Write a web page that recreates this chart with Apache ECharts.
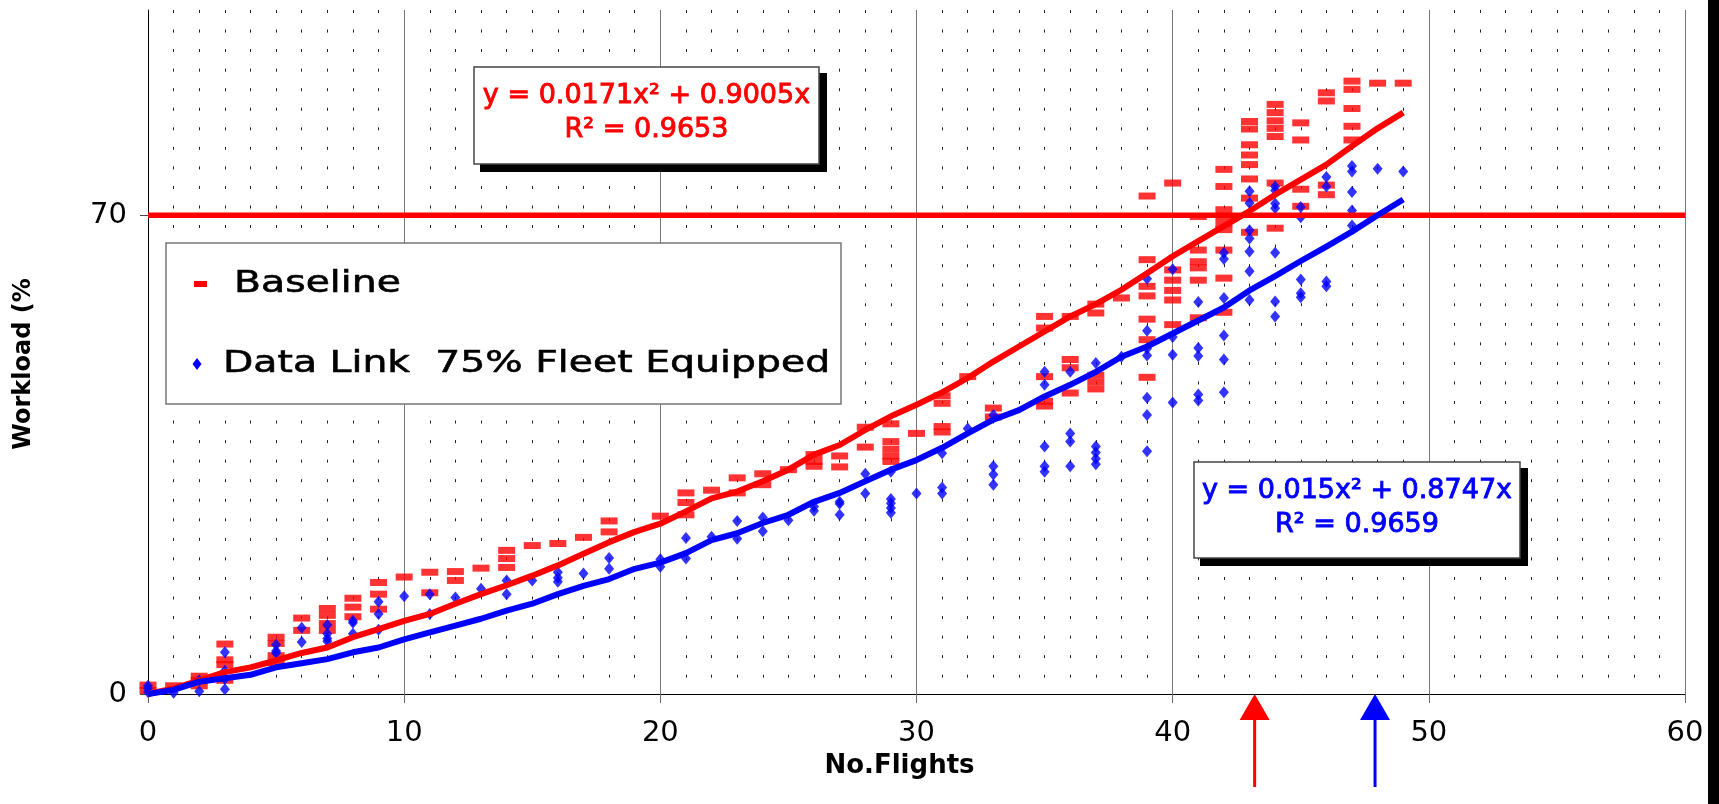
<!DOCTYPE html>
<html>
<head>
<meta charset="utf-8">
<title>Workload vs No. Flights</title>
<script src="https://cdn.jsdelivr.net/npm/echarts@6/dist/echarts.min.js"></script>
<style>
  html, body { margin: 0; padding: 0; background: #fff; }
  #chart { width: 1719px; height: 804px; }
</style>
</head>
<body>
<div id="chart"></div>
<script>
// ---- data ----
// Baseline sessions: [no. flights, workload %]
const baselinePoints = [
  [0, 0.5], [0, 1.3], [1, 1.2], [2, 1.2], [2, 2.0], [2, 2.6],
  [3, 7.3], [3, 5.0], [3, 4.3], [3, 2.0],
  [5, 8.3], [5, 7.4], [5, 5.6], [5, 4.6], [6, 11.1], [6, 9.3],
  [7, 12.5], [7, 11.5], [7, 10.3], [7, 9.3], [8, 14.0], [8, 12.7], [8, 11.3],
  [9, 16.3], [9, 14.6], [9, 12.4], [10, 17.1], [11, 17.8], [11, 14.8],
  [12, 17.9], [12, 16.6], [13, 18.4], [14, 21.0], [14, 19.8], [14, 18.5],
  [15, 21.7], [16, 22.0], [17, 22.9], [18, 25.3], [18, 23.7], [20, 26.0],
  [21, 29.4], [21, 28.0], [21, 26.2], [22, 29.8], [23, 31.6], [23, 29.4],
  [24, 32.2], [24, 30.6], [25, 32.8], [26, 35.0], [26, 34.0], [26, 33.3],
  [27, 34.8], [27, 33.2], [28, 39.0], [28, 36.1],
  [29, 39.5], [29, 36.9], [29, 35.8], [29, 34.8], [29, 34.0], [30, 38.1],
  [31, 43.6], [31, 42.5], [31, 39.1], [31, 38.3], [32, 46.4], [33, 41.8], [33, 40.5],
  [35, 55.2], [35, 53.5], [35, 46.4], [35, 42.8], [35, 42.1],
  [36, 55.2], [36, 48.9], [36, 47.7], [36, 44.0],
  [37, 57.0], [37, 55.7], [37, 46.6], [37, 45.6], [37, 44.6], [38, 57.9],
  [39, 72.8], [39, 63.5], [39, 59.6], [39, 58.2], [39, 54.8], [39, 51.8], [39, 46.3],
  [40, 74.7], [40, 62.0], [40, 60.5], [40, 59.0], [40, 57.6], [40, 54.0],
  [41, 69.8], [41, 64.9], [41, 63.2], [41, 62.3], [41, 60.5], [41, 55.0],
  [42, 76.7], [42, 74.2], [42, 70.8], [42, 69.8], [42, 68.8], [42, 67.9], [42, 64.9], [42, 60.8], [42, 55.8],
  [43, 83.7], [43, 82.6], [43, 80.3], [43, 78.8], [43, 77.4], [43, 75.3], [43, 72.5], [43, 67.5],
  [44, 86.2], [44, 85.0], [44, 83.8], [44, 82.7], [44, 81.5], [44, 74.7], [44, 68.1],
  [45, 83.5], [45, 81.0], [45, 73.8], [45, 71.3],
  [46, 87.9], [46, 86.7], [46, 74.4], [46, 73.0],
  [47, 89.6], [47, 88.4], [47, 85.6], [47, 83.0], [47, 81.0],
  [48, 89.3], [49, 89.3]
]

// Data Link 75% fleet equipped sessions: [no. flights, workload %]
const dataLinkPoints = [
  [0, 1.2], [0, 0.8], [0, 0.3], [1, 0.2], [2, 2.0], [2, 0.4],
  [3, 6.1], [3, 3.4], [3, 2.2], [3, 0.7], [5, 7.2], [5, 6.3], [5, 6.0],
  [6, 9.7], [6, 7.6], [7, 10.1], [7, 8.8], [7, 8.1], [7, 7.7],
  [8, 10.7], [8, 10.4], [8, 8.8], [9, 13.5], [9, 11.7], [9, 9.4],
  [10, 14.3], [11, 14.6], [11, 11.7], [12, 14.1], [13, 15.4], [14, 16.6], [14, 14.6],
  [15, 16.6], [16, 17.8], [16, 17.0], [16, 16.4], [17, 17.6], [18, 19.9], [18, 18.3],
  [20, 19.7], [20, 18.6], [21, 22.8], [21, 19.8], [22, 23.0], [23, 25.3], [23, 22.7],
  [24, 25.8], [24, 23.8], [25, 25.4], [26, 27.4], [26, 26.8],
  [27, 28.1], [27, 27.8], [27, 26.2], [28, 32.2], [28, 29.3],
  [29, 32.5], [29, 28.5], [29, 27.9], [29, 27.2], [29, 26.5], [30, 29.3],
  [31, 35.2], [31, 30.2], [31, 29.3], [32, 38.8],
  [33, 40.8], [33, 33.3], [33, 32.1], [33, 30.6],
  [35, 47.1], [35, 45.2], [35, 36.2], [35, 33.3], [35, 32.5],
  [36, 47.1], [36, 38.1], [36, 36.9], [36, 33.3],
  [37, 48.4], [37, 36.2], [37, 35.3], [37, 34.4], [37, 33.6], [38, 49.3],
  [39, 60.7], [39, 53.1], [39, 50.5], [39, 49.5], [39, 43.3], [39, 40.8], [39, 35.5],
  [40, 62.1], [40, 52.2], [40, 49.6], [40, 42.6],
  [41, 57.3], [41, 50.6], [41, 49.4], [41, 43.8], [41, 42.9],
  [42, 64.5], [42, 63.6], [42, 57.9], [42, 52.4], [42, 48.9], [42, 44.1],
  [43, 73.5], [43, 71.8], [43, 67.8], [43, 66.6], [43, 64.7], [43, 61.8], [43, 57.6],
  [44, 74.2], [44, 73.6], [44, 71.7], [44, 71.0], [44, 64.5], [44, 57.4], [44, 55.2],
  [45, 71.2], [45, 69.7], [45, 60.6], [45, 58.6], [45, 58.0],
  [46, 75.6], [46, 74.2], [46, 60.3], [46, 59.6],
  [47, 77.2], [47, 76.4], [47, 73.4], [47, 70.7], [47, 68.5],
  [48, 76.8], [49, 76.4]
]

// trend lines as drawn, sampled at each flight count
const trendFlights = [
  0, 1, 2, 3, 4, 5, 6, 7, 8, 9, 10, 11, 12, 13, 14, 15, 16, 17, 18, 19, 20, 21, 22, 23, 24,
  25, 26, 27, 28, 29, 30, 31, 32, 33, 34, 35, 36, 37, 38, 39, 40, 41, 42, 43, 44, 45, 46, 47, 48, 49
]
const baselineTrend = [
  0, 0.8, 2.0, 3.2, 3.9, 4.9, 6.0, 6.8, 8.3, 9.5, 10.7, 11.7, 13.2, 14.6, 15.9, 17.3, 18.8,
  20.5, 22.2, 23.7, 24.9, 26.7, 28.6, 29.6, 31.1, 32.8, 35.0, 36.4, 38.6, 40.6, 42.3, 44.1,
  46.2, 48.6, 50.8, 53.0, 55.2, 57.0, 59.1, 61.5, 64.0, 66.2, 68.4, 70.6, 73.0, 75.2, 77.4,
  80.1, 82.7, 85.0
]
const dataLinkTrend = [
  0, 0.6, 1.8, 2.3, 2.8, 3.9, 4.5, 5.1, 6.1, 6.8, 8.0, 9.0, 10.0, 11.0, 12.2, 13.2, 14.6,
  15.8, 16.8, 18.3, 19.2, 20.6, 22.5, 23.5, 25.0, 26.2, 28.1, 29.4, 31.1, 32.8, 34.2, 36.0,
  38.1, 40.1, 41.5, 43.5, 45.2, 47.1, 49.3, 50.8, 52.7, 54.6, 56.5, 59.0, 61.1, 63.3, 65.4,
  67.6, 70.0, 72.3
]

const workloadLimit = 70
const yTickValues = [0, 70]
// flight counts where each trend crosses the limit (arrows under the axis)
const arrowFlights = [43.2, 47.9]

const baselineEquation = ['y = 0.0171x² + 0.9005x', 'R² = 0.9653']
const dataLinkEquation = ['y = 0.015x² + 0.8747x', 'R² = 0.9659']
const legendLabels = ['Baseline', 'Data Link  75% Fleet Equipped']

const RED = '#ff0000'
const BLUE = '#0000ff'
const FONT = 'DejaVu Sans'

const chart = echarts.init(document.getElementById('chart'))

chart.setOption({
  animation: false,
  backgroundColor: '#fff',
  grid: { left: 148, right: 34, top: 10, bottom: 110, containLabel: false },
  xAxis: {
    type: 'value',
    min: 0,
    max: 60,
    interval: 10,
    name: 'No.Flights',
    nameLocation: 'middle',
    nameGap: 44,
    nameTextStyle: { fontFamily: FONT, fontWeight: 'bold', fontSize: 26, color: '#000', padding: [0, 34, 0, 0] },
    axisLine: { show: true, onZero: false, lineStyle: { color: '#000', width: 1 } },
    axisTick: { show: true, length: 9, lineStyle: { color: '#666' } },
    minorTick: { show: false, splitNumber: 10 },
    axisLabel: { fontFamily: FONT, fontSize: 29, color: '#000', margin: 25 },
    splitLine: { show: true, lineStyle: { color: '#777', width: 1 } },
    // dotted look of the excel minor gridlines
    minorSplitLine: { show: true, lineStyle: { color: '#222', width: 1, type: [3, 16.55] } }
  },
  yAxis: {
    type: 'value',
    min: 0,
    max: 100,
    name: 'Workload (%',
    nameLocation: 'middle',
    nameGap: 112,
    nameTextStyle: { fontFamily: FONT, fontWeight: 'bold', fontSize: 24, color: '#000', padding: [0, 24, 0, 0] },
    axisLine: { show: true, onZero: false, lineStyle: { color: '#000', width: 1 } },
    axisTick: { show: true, length: 8, customValues: yTickValues, lineStyle: { color: '#444' } },
    axisLabel: { fontFamily: FONT, fontSize: 29, color: '#000', margin: 21, customValues: yTickValues },
    splitLine: { show: false }
  },
  series: [
    {
      name: legendLabels[0],
      type: 'scatter',
      data: baselinePoints,
      symbol: 'rect',
      symbolSize: [17, 7],
      itemStyle: { color: RED },
      z: 2
    },
    {
      name: legendLabels[1],
      type: 'scatter',
      data: dataLinkPoints,
      symbol: 'diamond',
      symbolSize: [10, 12],
      itemStyle: { color: BLUE },
      z: 3
    },
    {
      name: 'limit',
      type: 'line',
      data: [[0, workloadLimit], [60, workloadLimit]],
      symbol: 'none',
      lineStyle: { color: RED, width: 5.5 },
      z: 4
    },
    {
      name: 'Baseline trend',
      type: 'line',
      data: trendFlights.map((f, i) => [f, baselineTrend[i]]),
      symbol: 'none',
      lineStyle: { color: RED, width: 6, join: 'round' },
      z: 5
    },
    {
      name: 'Data Link trend',
      type: 'line',
      data: trendFlights.map((f, i) => [f, dataLinkTrend[i]]),
      symbol: 'none',
      lineStyle: { color: BLUE, width: 6, join: 'round' },
      z: 6
    }
  ]
})

// ---- annotations: legend box, equation boxes, arrows ----
function equationBox(x, y, w, h, lines, color) {
  const txt = (t, ty) => ({
    type: 'text', x: x + w / 2, y: ty, z: 102,
    style: {
      text: t, fontFamily: FONT, fontSize: 27, fill: color,
      stroke: color, lineWidth: 0.9, align: 'center', verticalAlign: 'middle'
    }
  })
  return {
    type: 'group',
    z: 100,
    children: [
      { type: 'rect', shape: { x: x + 6, y: y + 6, width: w + 2, height: h + 2 }, style: { fill: '#000' }, z: 100 },
      { type: 'rect', shape: { x: x, y: y, width: w, height: h }, style: { fill: '#fff', stroke: '#444', lineWidth: 1.5 }, z: 101 },
      txt(lines[0], y + 29),
      txt(lines[1], y + 63)
    ]
  }
}

const legendText = (t, x, y) => ({
  type: 'text', x: x, y: y, scaleX: 1.27, z: 101,
  style: { text: t, fontFamily: FONT, fontSize: 31, fill: '#000', stroke: '#000', lineWidth: 0.6, verticalAlign: 'middle' }
})

const legendBox = {
  type: 'group',
  z: 100,
  children: [
    { type: 'rect', shape: { x: 166, y: 243, width: 675, height: 161 }, style: { fill: '#fff', stroke: '#777', lineWidth: 1.5 }, z: 100 },
    { type: 'rect', shape: { x: 194, y: 281, width: 13, height: 6 }, style: { fill: RED }, z: 101 },
    { type: 'polygon', shape: { points: [[197, 358], [201.5, 364], [197, 370], [192.5, 364]] }, style: { fill: BLUE }, z: 101 },
    legendText(legendLabels[0], 234, 284),
    legendText(legendLabels[1], 223, 364)
  ]
}

const arrowColors = [RED, BLUE]
const arrows = arrowFlights.map((f, i) => {
  const p = chart.convertToPixel({ gridIndex: 0 }, [f, 0])
  return {
    type: 'group',
    z: 100,
    children: [
      { type: 'polygon', shape: { points: [[p[0], p[1]], [p[0] + 15, p[1] + 26], [p[0] - 15, p[1] + 26]] }, style: { fill: arrowColors[i] } },
      { type: 'rect', shape: { x: p[0] - 1.5, y: p[1] + 25, width: 3, height: 68 }, style: { fill: arrowColors[i] } }
    ]
  }
})

chart.setOption({
  graphic: [
    legendBox,
    equationBox(474, 67, 345, 97, baselineEquation, RED),
    equationBox(1194, 462, 326, 96, dataLinkEquation, BLUE),
    ...arrows,
    // dark strip along the right edge of the scan
    { type: 'rect', z: 100, shape: { x: 1708, y: 0, width: 11, height: 804 }, style: { fill: '#000' } }
  ]
})
</script>
</body>
</html>
